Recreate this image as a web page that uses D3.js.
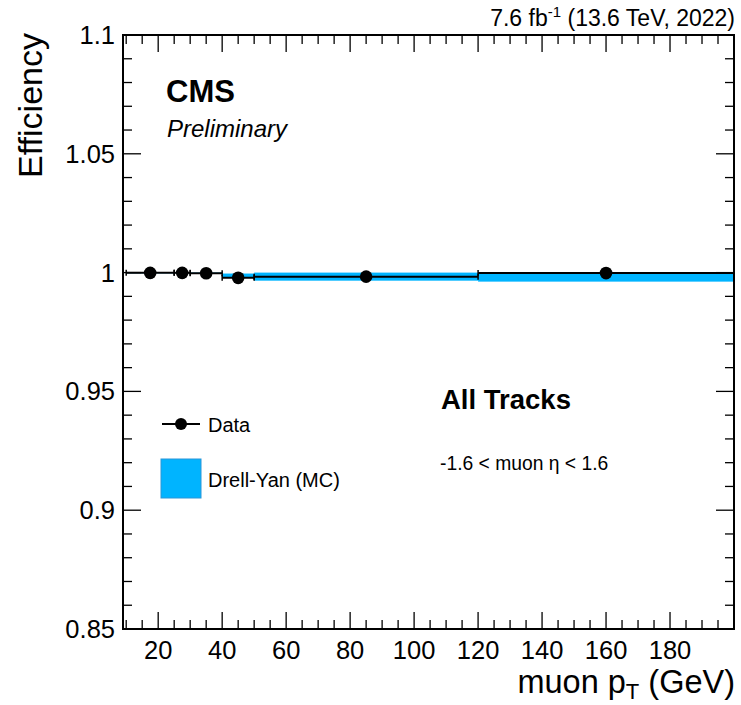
<!DOCTYPE html>
<html>
<head>
<meta charset="utf-8">
<script src="https://cdn.jsdelivr.net/npm/d3@7"></script>
<style>
  html, body { margin: 0; padding: 0; background: #fff; }
  svg { display: block; }
  text { font-family: "Liberation Sans", Arial, Helvetica, sans-serif; fill: #000; }
</style>
</head>
<body>
<svg id="chart" width="741" height="705"></svg>
<script>
// Muon tracking efficiency vs pT, binned
const binLow    = [10, 25, 30, 40, 50, 120];
const binHigh   = [25, 30, 40, 50, 120, 200];
const binCenter = [17.5, 27.5, 35, 45, 85, 160];
const dataEff   = [0.9999, 0.9999, 0.9997, 0.9978, 0.9983, 0.9998];
const dataErr   = [0.0003, 0.0003, 0.0003, 0.0004, 0.0004, 0.0006];
const mcEff     = [0.9999, 0.9999, 0.9998, 0.9987, 0.9983, 0.9981];
const mcErr     = [0.0002, 0.0002, 0.0002, 0.0009, 0.0017, 0.0019];

const xMajorTicks = [20, 40, 60, 80, 100, 120, 140, 160, 180];
const yMajorTicks = [0.85, 0.9, 0.95, 1.0, 1.05, 1.1];

const width = 741, height = 705;
const margin = { left: 123, right: 7, top: 35, bottom: 76 };
const x0 = margin.left, x1 = width - margin.right;
const y0 = height - margin.bottom, y1 = margin.top;

const svg = d3.select("#chart");

const x = d3.scaleLinear().domain([9, 200]).range([x0, x1]);
const y = d3.scaleLinear().domain([0.85, 1.1]).range([y0, y1]);

const mcColor = "#00b4ff";

// MC band
svg.append("g").selectAll("rect")
  .data(binLow.map((lo, i) => ({ lo, hi: binHigh[i], v: mcEff[i], e: mcErr[i] })))
  .join("rect")
  .attr("x", d => x(d.lo))
  .attr("width", d => x(d.hi) - x(d.lo))
  .attr("y", d => y(d.v + d.e))
  .attr("height", d => Math.max(0.5, y(d.v - d.e) - y(d.v + d.e)))
  .attr("fill", mcColor);

// Data points with error bars
const pts = binCenter.map((c, i) => ({ c, lo: binLow[i], hi: binHigh[i], v: dataEff[i], e: dataErr[i] }));
const gData = svg.append("g");
gData.selectAll("line.h").data(pts).join("line")
  .attr("x1", d => x(d.lo)).attr("x2", d => x(d.hi))
  .attr("y1", d => y(d.v)).attr("y2", d => y(d.v))
  .attr("stroke", "#000").attr("stroke-width", 2);
gData.selectAll("line.v").data(pts).join("line")
  .attr("x1", d => x(d.c)).attr("x2", d => x(d.c))
  .attr("y1", d => y(d.v - d.e)).attr("y2", d => y(d.v + d.e))
  .attr("stroke", "#000").attr("stroke-width", 2);
// end caps on the horizontal bars
["lo", "hi"].forEach(k => {
  gData.selectAll("line.cap-" + k).data(pts).join("line")
    .attr("x1", d => x(d[k])).attr("x2", d => x(d[k]))
    .attr("y1", d => y(d.v) - 3).attr("y2", d => y(d.v) + 3)
    .attr("stroke", "#000").attr("stroke-width", 1.5);
});
gData.selectAll("circle").data(pts).join("circle")
  .attr("cx", d => x(d.c)).attr("cy", d => y(d.v)).attr("r", 6.3)
  .attr("fill", "#000");

// Axes: frame with ticks on all four sides
const axes = svg.append("g");
const xMinor = d3.range(10, 200, 5).filter(v => !xMajorTicks.includes(v));
const yMinor = d3.range(0, 26).map(i => +(0.85 + i * 0.01).toFixed(2))
  .filter(v => !yMajorTicks.some(t => Math.abs(t - v) < 1e-9));

const majX = 17, minX = 9, majY = 18, minY = 9;
xMajorTicks.forEach(v => {
  axes.append("line").attr("x1", x(v)).attr("x2", x(v)).attr("y1", y0).attr("y2", y0 - majX);
  axes.append("line").attr("x1", x(v)).attr("x2", x(v)).attr("y1", y1).attr("y2", y1 + majX);
});
xMinor.forEach(v => {
  axes.append("line").attr("x1", x(v)).attr("x2", x(v)).attr("y1", y0).attr("y2", y0 - minX);
  axes.append("line").attr("x1", x(v)).attr("x2", x(v)).attr("y1", y1).attr("y2", y1 + minX);
});
yMajorTicks.forEach(v => {
  axes.append("line").attr("x1", x0).attr("x2", x0 + majY).attr("y1", y(v)).attr("y2", y(v));
  axes.append("line").attr("x1", x1).attr("x2", x1 - majY).attr("y1", y(v)).attr("y2", y(v));
});
yMinor.forEach(v => {
  axes.append("line").attr("x1", x0).attr("x2", x0 + minY).attr("y1", y(v)).attr("y2", y(v));
  axes.append("line").attr("x1", x1).attr("x2", x1 - minY).attr("y1", y(v)).attr("y2", y(v));
});
axes.selectAll("line").attr("stroke", "#000").attr("stroke-width", 1.3);

axes.append("rect")
  .attr("x", x0).attr("y", y1).attr("width", x1 - x0).attr("height", y0 - y1)
  .attr("fill", "none").attr("stroke", "#000").attr("stroke-width", 2);

// Tick labels
const fmt = v => String(+v.toFixed(2));
svg.append("g").selectAll("text").data(xMajorTicks).join("text")
  .attr("x", d => x(d)).attr("y", y0 + 30)
  .attr("text-anchor", "middle").attr("font-size", 25.5)
  .text(d => d);
svg.append("g").selectAll("text").data(yMajorTicks).join("text")
  .attr("x", x0 - 8).attr("y", d => y(d) + 9)
  .attr("text-anchor", "end").attr("font-size", 25.5)
  .text(fmt);

// Axis titles
const xt = svg.append("text")
  .attr("x", x1 + 1).attr("y", 693)
  .attr("text-anchor", "end").attr("font-size", 32.5);
xt.append("tspan").text("muon p");
xt.append("tspan").attr("font-size", 22).attr("dy", 6).text("T");
xt.append("tspan").attr("dy", -6).text(" (GeV)");

svg.append("text")
  .attr("transform", `translate(42, ${y1 - 2}) rotate(-90)`)
  .attr("text-anchor", "end").attr("font-size", 34)
  .text("Efficiency");

// Luminosity label
const lumi = svg.append("text")
  .attr("x", x1 + 1).attr("y", 26)
  .attr("text-anchor", "end").attr("font-size", 23);
lumi.append("tspan").text("7.6 fb");
lumi.append("tspan").attr("font-size", 15).attr("dy", -9).text("-1");
lumi.append("tspan").attr("dy", 9).text(" (13.6 TeV, 2022)");

// CMS labels
svg.append("text").attr("x", 166).attr("y", 102)
  .attr("font-size", 31).attr("font-weight", "bold").text("CMS");
svg.append("text").attr("x", 167).attr("y", 137)
  .attr("font-size", 24).attr("font-style", "italic").text("Preliminary");

// Selection labels
svg.append("text").attr("x", 441).attr("y", 409)
  .attr("font-size", 27.5).attr("font-weight", "bold").text("All Tracks");
svg.append("text").attr("x", 440).attr("y", 470)
  .attr("font-size", 19.3).text("-1.6 < muon \u03b7 < 1.6");

// Legend
const leg = svg.append("g");
leg.append("line").attr("x1", 162).attr("x2", 200).attr("y1", 424).attr("y2", 424)
  .attr("stroke", "#000").attr("stroke-width", 2);
leg.append("circle").attr("cx", 181).attr("cy", 424).attr("r", 6).attr("fill", "#000");
leg.append("text").attr("x", 208).attr("y", 432).attr("font-size", 20).text("Data");
leg.append("rect").attr("x", 161).attr("y", 459).attr("width", 40).attr("height", 39)
  .attr("fill", mcColor).attr("stroke", "#2a96d8").attr("stroke-width", 1);
leg.append("text").attr("x", 208).attr("y", 487).attr("font-size", 20).text("Drell-Yan (MC)");
</script>
</body>
</html>
